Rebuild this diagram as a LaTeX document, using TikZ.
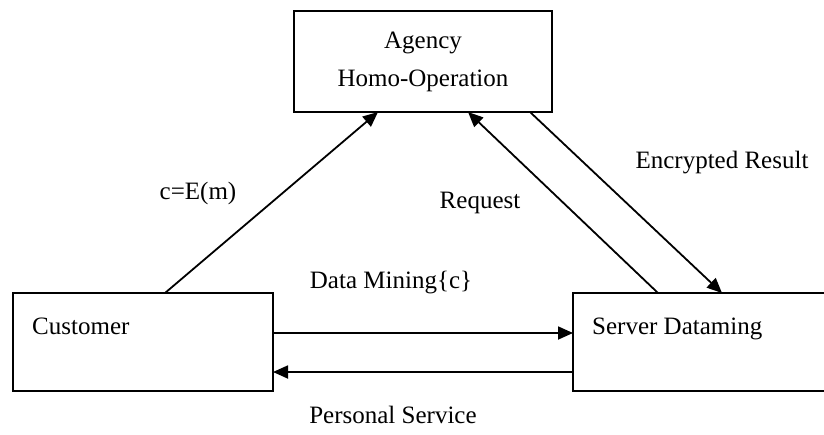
\documentclass[tikz,border=0pt]{standalone}
\usepackage{fontspec}
\setmainfont{Liberation Serif}
\usetikzlibrary{arrows.meta}
\usetikzlibrary{calc}

\begin{document}
\begin{tikzpicture}[x=1pt, y=-1pt,
        font=\fontsize{25}{38}\selectfont,
        block/.style={draw, black, line width=1.6pt, inner sep=0pt, outer sep=0pt},
        flow/.style={black, line width=1.8pt, -{Triangle[length=15pt, width=13pt]}}]
        \useasboundingbox (0,0) rectangle (824,434);
        % the three parties
        \node[block, minimum width=258pt, minimum height=101pt, align=center] (agency) at (423,61.5) {Agency\\Homo-Operation};
        \node[block, minimum width=260pt, minimum height=98pt] (cust) at (143,342) {};
        \node[block, minimum width=253pt, minimum height=98pt] (serv) at (699.5,342) {};
        \node[anchor=base west, inner sep=0pt] (custtxt) at ([xshift=19pt, yshift=-41pt]cust.north west) {Customer};
        \node[anchor=base west, inner sep=0pt] (servtxt) at ([xshift=19pt, yshift=-41pt]serv.north west) {Server Dataming};
        % messages between them
        \draw[flow] ([xshift=152pt]cust.north west) -- ([xshift=84pt]agency.south west);
        \draw[flow] ([xshift=85pt]serv.north west) -- ([xshift=174pt]agency.south west);
        \draw[flow] ([xshift=236pt]agency.south west) -- ([xshift=149pt]serv.north west);
        \draw[flow] ([yshift=-40pt]cust.north east) -- ([yshift=-40pt]serv.north west);
        \draw[flow] ([yshift=-79pt]serv.north west) -- ([yshift=-79pt]cust.north east);
        \node (enc) at (198,193) {c=E(m)};
        \node (req) at (480,203) {Request};
        \node (res) at (722,163) {Encrypted Result};
        \node (mine) at (391,283) {Data Mining\{c\}};
        \node (serve) at (393,415) {Personal Service};
    \end{tikzpicture}
\end{document}
